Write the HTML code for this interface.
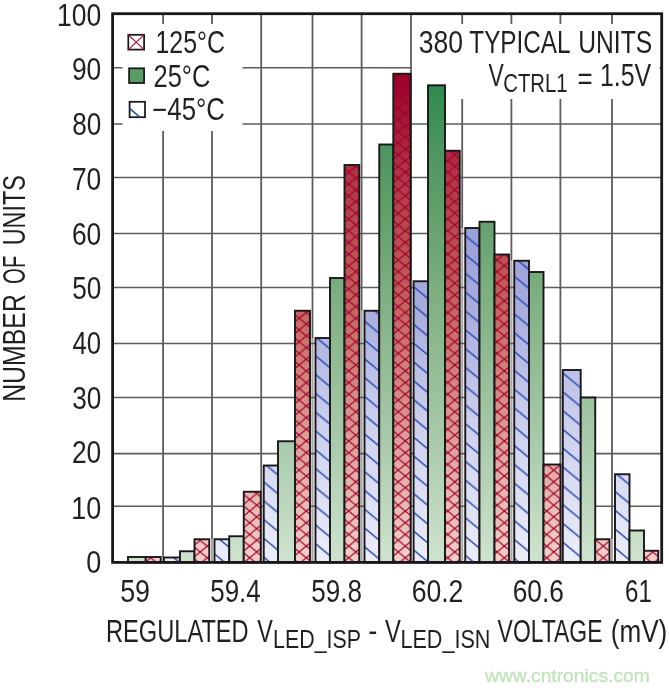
<!DOCTYPE html>
<html lang="en"><head><meta charset="utf-8"><title>Regulated VLED_ISP - VLED_ISN Voltage histogram</title>
<style>html,body{margin:0;padding:0;background:#fff;overflow:hidden}svg{display:block}</style></head><body>
<svg width="669" height="692" viewBox="0 0 669 692" font-family="&quot;Liberation Sans&quot;, sans-serif">
<defs>
<linearGradient id="gr" gradientUnits="userSpaceOnUse" x1="0" y1="13.7" x2="0" y2="562.4"><stop offset="0" stop-color="#930027"/><stop offset="0.11" stop-color="#99002b"/><stop offset="0.2" stop-color="#a41a37"/><stop offset="0.28" stop-color="#b03044"/><stop offset="0.36" stop-color="#b6434c"/><stop offset="0.45" stop-color="#bd5254"/><stop offset="0.522" stop-color="#c4605d"/><stop offset="0.704" stop-color="#d88c88"/><stop offset="0.886" stop-color="#e9b8b3"/><stop offset="1" stop-color="#f3cfc9"/></linearGradient>
<linearGradient id="gg" gradientUnits="userSpaceOnUse" x1="0" y1="13.7" x2="0" y2="562.4"><stop offset="0" stop-color="#1f7f45"/><stop offset="0.13" stop-color="#2e8b50"/><stop offset="0.248" stop-color="#4f9560"/><stop offset="0.34" stop-color="#5d9d68"/><stop offset="0.522" stop-color="#7fb083"/><stop offset="0.74" stop-color="#a3c6a4"/><stop offset="1" stop-color="#cfe3cf"/></linearGradient>
<linearGradient id="gb" gradientUnits="userSpaceOnUse" x1="0" y1="13.7" x2="0" y2="562.4"><stop offset="0" stop-color="#6f78c4"/><stop offset="0.39" stop-color="#979fd8"/><stop offset="0.55" stop-color="#a9aede"/><stop offset="0.74" stop-color="#cbcfed"/><stop offset="1" stop-color="#eceefa"/></linearGradient>
<pattern id="hr" patternUnits="userSpaceOnUse" x="193.13" y="546.11" width="14.144" height="11.68"><path d="M-7.072 -5.84L21.216 17.52M-7.072 17.52L21.216 -5.84M7.072 -5.84L21.216 5.84M-7.072 5.84L7.072 17.52M-7.072 5.84L7.072 -5.84M7.072 17.52L21.216 5.84" stroke="#a00028" stroke-width="1.25" fill="none"/></pattern>
<pattern id="hb" patternUnits="userSpaceOnUse" x="414.16" y="503.40" width="22.651" height="18.8"><path d="M-22.651 -9.4L22.651 28.200000000000003M0 -9.4L45.301 28.200000000000003M-45.301 -9.4L0 28.200000000000003" stroke="#2d4db6" stroke-width="1.5" fill="none"/></pattern>
</defs>
<rect width="669" height="692" fill="#fff"/>
<path d="M163.1 13.7V562.4M212.0 13.7V562.4M261.2 13.7V562.4M312.5 13.7V562.4M361.6 13.7V562.4M411.0 13.7V562.4M462.2 13.7V562.4M511.4 13.7V562.4M560.4 13.7V562.4M612.0 13.7V562.4" stroke="#5c5d5f" stroke-width="1.8" fill="none"/>
<path d="M163.1 557.5V562.4M212.0 539.25V562.4M261.2 491.75V562.4M312.5 338.0V562.4M361.6 310.75V562.4M411.0 281.25V562.4M462.2 228.0V562.4M511.4 260.75V562.4M560.4 464.5V562.4M612.0 539.25V562.4" stroke="#fff" stroke-width="2.4" fill="none"/>
<path d="M163.1 557.5V562.4M212.0 539.25V562.4M261.2 491.75V562.4M312.5 338.0V562.4M361.6 310.75V562.4M411.0 281.25V562.4M462.2 228.0V562.4M511.4 260.75V562.4M560.4 464.5V562.4M612.0 539.25V562.4" stroke="#a6a6a8" stroke-width="1.9" fill="none"/>
<path d="M112.6 67.75H661.7M112.6 124.0H661.7M112.6 177.5H661.7M112.6 233.4H661.7M112.6 287.5H661.7M112.6 343.4H661.7M112.6 397.5H661.7M112.6 453.6H661.7M112.6 506.2H661.7" stroke="#5c5d5f" stroke-width="1.55" fill="none"/>
<rect x="122.5" y="24" width="120" height="107" fill="#fff"/>
<rect x="412" y="24" width="247.5" height="75" fill="#fff"/>
<rect x="128.0" y="557.0" width="17.75" height="5.40" fill="url(#gg)"/>
<rect x="128.0" y="557.0" width="17.75" height="5.40" fill="none" stroke="#1a1718" stroke-width="1.9"/>
<rect x="145.75" y="557.0" width="15.00" height="5.40" fill="url(#gr)"/>
<rect x="145.75" y="557.0" width="15.00" height="5.40" fill="url(#hr)"/>
<rect x="145.75" y="557.0" width="15.00" height="5.40" fill="none" stroke="#1a1718" stroke-width="1.9"/>
<rect x="163.9" y="557.5" width="16.10" height="4.90" fill="url(#gb)"/>
<rect x="163.9" y="557.5" width="16.10" height="4.90" fill="url(#hb)"/>
<rect x="163.9" y="557.5" width="16.10" height="4.90" fill="none" stroke="#1a1718" stroke-width="1.9"/>
<rect x="180.0" y="551.25" width="14.50" height="11.15" fill="url(#gg)"/>
<rect x="180.0" y="551.25" width="14.50" height="11.15" fill="none" stroke="#1a1718" stroke-width="1.9"/>
<rect x="194.5" y="539.25" width="14.75" height="23.15" fill="url(#gr)"/>
<rect x="194.5" y="539.25" width="14.75" height="23.15" fill="url(#hr)"/>
<rect x="194.5" y="539.25" width="14.75" height="23.15" fill="none" stroke="#1a1718" stroke-width="1.9"/>
<rect x="214.5" y="539.25" width="14.75" height="23.15" fill="url(#gb)"/>
<rect x="214.5" y="539.25" width="14.75" height="23.15" fill="url(#hb)"/>
<rect x="214.5" y="539.25" width="14.75" height="23.15" fill="none" stroke="#1a1718" stroke-width="1.9"/>
<rect x="229.25" y="536.25" width="14.50" height="26.15" fill="url(#gg)"/>
<rect x="229.25" y="536.25" width="14.50" height="26.15" fill="none" stroke="#1a1718" stroke-width="1.9"/>
<rect x="243.75" y="491.75" width="17.00" height="70.65" fill="url(#gr)"/>
<rect x="243.75" y="491.75" width="17.00" height="70.65" fill="url(#hr)"/>
<rect x="243.75" y="491.75" width="17.00" height="70.65" fill="none" stroke="#1a1718" stroke-width="1.9"/>
<rect x="263.75" y="465.5" width="14.25" height="96.90" fill="url(#gb)"/>
<rect x="263.75" y="465.5" width="14.25" height="96.90" fill="url(#hb)"/>
<rect x="263.75" y="465.5" width="14.25" height="96.90" fill="none" stroke="#1a1718" stroke-width="1.9"/>
<rect x="278.0" y="441.25" width="17.00" height="121.15" fill="url(#gg)"/>
<rect x="278.0" y="441.25" width="17.00" height="121.15" fill="none" stroke="#1a1718" stroke-width="1.9"/>
<rect x="295.0" y="310.75" width="15.00" height="251.65" fill="url(#gr)"/>
<rect x="295.0" y="310.75" width="15.00" height="251.65" fill="url(#hr)"/>
<rect x="295.0" y="310.75" width="15.00" height="251.65" fill="none" stroke="#1a1718" stroke-width="1.9"/>
<rect x="315.5" y="338.0" width="14.50" height="224.40" fill="url(#gb)"/>
<rect x="315.5" y="338.0" width="14.50" height="224.40" fill="url(#hb)"/>
<rect x="315.5" y="338.0" width="14.50" height="224.40" fill="none" stroke="#1a1718" stroke-width="1.9"/>
<rect x="330.0" y="278.0" width="14.50" height="284.40" fill="url(#gg)"/>
<rect x="330.0" y="278.0" width="14.50" height="284.40" fill="none" stroke="#1a1718" stroke-width="1.9"/>
<rect x="344.5" y="165.0" width="14.75" height="397.40" fill="url(#gr)"/>
<rect x="344.5" y="165.0" width="14.75" height="397.40" fill="url(#hr)"/>
<rect x="344.5" y="165.0" width="14.75" height="397.40" fill="none" stroke="#1a1718" stroke-width="1.9"/>
<rect x="364.5" y="310.75" width="14.75" height="251.65" fill="url(#gb)"/>
<rect x="364.5" y="310.75" width="14.75" height="251.65" fill="url(#hb)"/>
<rect x="364.5" y="310.75" width="14.75" height="251.65" fill="none" stroke="#1a1718" stroke-width="1.9"/>
<rect x="379.25" y="144.5" width="14.05" height="417.90" fill="url(#gg)"/>
<rect x="379.25" y="144.5" width="14.05" height="417.90" fill="none" stroke="#1a1718" stroke-width="1.9"/>
<rect x="393.3" y="73.75" width="17.30" height="488.65" fill="url(#gr)"/>
<rect x="393.3" y="73.75" width="17.30" height="488.65" fill="url(#hr)"/>
<rect x="393.3" y="73.75" width="17.30" height="488.65" fill="none" stroke="#1a1718" stroke-width="1.9"/>
<rect x="413.6" y="281.25" width="14.40" height="281.15" fill="url(#gb)"/>
<rect x="413.6" y="281.25" width="14.40" height="281.15" fill="url(#hb)"/>
<rect x="413.6" y="281.25" width="14.40" height="281.15" fill="none" stroke="#1a1718" stroke-width="1.9"/>
<rect x="428.0" y="85.3" width="17.00" height="477.10" fill="url(#gg)"/>
<rect x="428.0" y="85.3" width="17.00" height="477.10" fill="none" stroke="#1a1718" stroke-width="1.9"/>
<rect x="445.0" y="150.75" width="14.75" height="411.65" fill="url(#gr)"/>
<rect x="445.0" y="150.75" width="14.75" height="411.65" fill="url(#hr)"/>
<rect x="445.0" y="150.75" width="14.75" height="411.65" fill="none" stroke="#1a1718" stroke-width="1.9"/>
<rect x="465.25" y="228.0" width="14.25" height="334.40" fill="url(#gb)"/>
<rect x="465.25" y="228.0" width="14.25" height="334.40" fill="url(#hb)"/>
<rect x="465.25" y="228.0" width="14.25" height="334.40" fill="none" stroke="#1a1718" stroke-width="1.9"/>
<rect x="479.5" y="221.75" width="15.00" height="340.65" fill="url(#gg)"/>
<rect x="479.5" y="221.75" width="15.00" height="340.65" fill="none" stroke="#1a1718" stroke-width="1.9"/>
<rect x="494.5" y="254.5" width="14.50" height="307.90" fill="url(#gr)"/>
<rect x="494.5" y="254.5" width="14.50" height="307.90" fill="url(#hr)"/>
<rect x="494.5" y="254.5" width="14.50" height="307.90" fill="none" stroke="#1a1718" stroke-width="1.9"/>
<rect x="514.25" y="260.75" width="14.75" height="301.65" fill="url(#gb)"/>
<rect x="514.25" y="260.75" width="14.75" height="301.65" fill="url(#hb)"/>
<rect x="514.25" y="260.75" width="14.75" height="301.65" fill="none" stroke="#1a1718" stroke-width="1.9"/>
<rect x="529.0" y="272.0" width="14.50" height="290.40" fill="url(#gg)"/>
<rect x="529.0" y="272.0" width="14.50" height="290.40" fill="none" stroke="#1a1718" stroke-width="1.9"/>
<rect x="543.5" y="464.5" width="17.00" height="97.90" fill="url(#gr)"/>
<rect x="543.5" y="464.5" width="17.00" height="97.90" fill="url(#hr)"/>
<rect x="543.5" y="464.5" width="17.00" height="97.90" fill="none" stroke="#1a1718" stroke-width="1.9"/>
<rect x="562.8" y="370.0" width="17.90" height="192.40" fill="url(#gb)"/>
<rect x="562.8" y="370.0" width="17.90" height="192.40" fill="url(#hb)"/>
<rect x="562.8" y="370.0" width="17.90" height="192.40" fill="none" stroke="#1a1718" stroke-width="1.9"/>
<rect x="580.75" y="397.5" width="14.50" height="164.90" fill="url(#gg)"/>
<rect x="580.75" y="397.5" width="14.50" height="164.90" fill="none" stroke="#1a1718" stroke-width="1.9"/>
<rect x="595.25" y="539.25" width="14.25" height="23.15" fill="url(#gr)"/>
<rect x="595.25" y="539.25" width="14.25" height="23.15" fill="url(#hr)"/>
<rect x="595.25" y="539.25" width="14.25" height="23.15" fill="none" stroke="#1a1718" stroke-width="1.9"/>
<rect x="615.0" y="474.25" width="14.50" height="88.15" fill="url(#gb)"/>
<rect x="615.0" y="474.25" width="14.50" height="88.15" fill="url(#hb)"/>
<rect x="615.0" y="474.25" width="14.50" height="88.15" fill="none" stroke="#1a1718" stroke-width="1.9"/>
<rect x="629.5" y="530.5" width="14.50" height="31.90" fill="url(#gg)"/>
<rect x="629.5" y="530.5" width="14.50" height="31.90" fill="none" stroke="#1a1718" stroke-width="1.9"/>
<rect x="644.0" y="550.75" width="14.25" height="11.65" fill="url(#gr)"/>
<rect x="644.0" y="550.75" width="14.25" height="11.65" fill="url(#hr)"/>
<rect x="644.0" y="550.75" width="14.25" height="11.65" fill="none" stroke="#1a1718" stroke-width="1.9"/>
<rect x="112.6" y="13.7" width="549.10" height="548.70" fill="none" stroke="#1a1718" stroke-width="2.8"/>
<rect x="128.3" y="34.8" width="15.8" height="14.8" fill="#fff" stroke="#1a1718" stroke-width="1.75"/>
<path d="M128.3 34.8L144.1 49.6M144.1 34.8L128.3 49.6" stroke="#a80a2c" stroke-width="1.1"/>
<rect x="129.1" y="68.3" width="15.0" height="14.7" fill="#5a9d66" stroke="#1a1718" stroke-width="1.75"/>
<rect x="129.6" y="101.8" width="15.4" height="15.4" fill="#fff" stroke="#1a1718" stroke-width="1.75"/>
<path d="M129.6 108.3L139.8 117.2" stroke="#2d4db6" stroke-width="1.6"/>
<text x="155.46" y="52.6" font-size="30.5" fill="#231f20" text-anchor="start" textLength="69.56" lengthAdjust="spacingAndGlyphs" >125°C</text>
<text x="153.55" y="86.9" font-size="30.5" fill="#231f20" text-anchor="start" textLength="56.81" lengthAdjust="spacingAndGlyphs" >25°C</text>
<text x="152.23" y="120.3" font-size="30.5" fill="#231f20" text-anchor="start" textLength="72.7" lengthAdjust="spacingAndGlyphs" >−45°C</text>
<text x="418.71" y="52.9" font-size="30.5" fill="#231f20" text-anchor="start" textLength="44.28" lengthAdjust="spacingAndGlyphs" >380</text>
<text x="469.3" y="52.9" font-size="30.5" fill="#231f20" text-anchor="start" textLength="101.29" lengthAdjust="spacingAndGlyphs" >TYPICAL</text>
<text x="578.18" y="52.9" font-size="30.5" fill="#231f20" text-anchor="start" textLength="74.03" lengthAdjust="spacingAndGlyphs" >UNITS</text>
<text x="488.56" y="86.0" font-size="30.5" fill="#231f20" text-anchor="start" textLength="15.26" lengthAdjust="spacingAndGlyphs" >V</text>
<text x="503.24" y="92.3" font-size="25" fill="#231f20" text-anchor="start" textLength="64.23" lengthAdjust="spacingAndGlyphs" >CTRL1</text>
<text x="577.48" y="89.0" font-size="30.5" fill="#231f20" text-anchor="start" textLength="15.1" lengthAdjust="spacingAndGlyphs" >=</text>
<text x="599.96" y="86.0" font-size="30.5" fill="#231f20" text-anchor="start" textLength="51.24" lengthAdjust="spacingAndGlyphs" >1.5V</text>
<text x="106.06" y="642.0" font-size="30.5" fill="#231f20" text-anchor="start" textLength="142.64" lengthAdjust="spacingAndGlyphs" >REGULATED</text>
<text x="257.21" y="642.0" font-size="30.5" fill="#231f20" text-anchor="start" textLength="15.56" lengthAdjust="spacingAndGlyphs" >V</text>
<text x="273.09" y="648.0" font-size="25" fill="#231f20" text-anchor="start" textLength="87.86" lengthAdjust="spacingAndGlyphs" >LED_ISP</text>
<text x="368.18" y="641.0" font-size="30.5" fill="#231f20" text-anchor="start" textLength="9.09" lengthAdjust="spacingAndGlyphs" >-</text>
<text x="385.11" y="642.0" font-size="30.5" fill="#231f20" text-anchor="start" textLength="15.87" lengthAdjust="spacingAndGlyphs" >V</text>
<text x="400.47" y="648.0" font-size="25" fill="#231f20" text-anchor="start" textLength="89.98" lengthAdjust="spacingAndGlyphs" >LED_ISN</text>
<text x="497.61" y="642.0" font-size="30.5" fill="#231f20" text-anchor="start" textLength="104.86" lengthAdjust="spacingAndGlyphs" >VOLTAGE</text>
<text x="610.79" y="642.0" font-size="30.5" fill="#231f20" text-anchor="start" textLength="56.52" lengthAdjust="spacingAndGlyphs" >(mV)</text>
<text x="56.94" y="26.0" font-size="30.5" fill="#231f20" text-anchor="start" textLength="44.25" lengthAdjust="spacingAndGlyphs" >100</text>
<text x="71.9" y="80.4" font-size="30.5" fill="#231f20" text-anchor="start" textLength="29.32" lengthAdjust="spacingAndGlyphs" >90</text>
<text x="72.13" y="135.2" font-size="30.5" fill="#231f20" text-anchor="start" textLength="29.09" lengthAdjust="spacingAndGlyphs" >80</text>
<text x="71.9" y="189.9" font-size="30.5" fill="#231f20" text-anchor="start" textLength="29.32" lengthAdjust="spacingAndGlyphs" >70</text>
<text x="71.9" y="244.6" font-size="30.5" fill="#231f20" text-anchor="start" textLength="29.32" lengthAdjust="spacingAndGlyphs" >60</text>
<text x="72.13" y="299.3" font-size="30.5" fill="#231f20" text-anchor="start" textLength="29.09" lengthAdjust="spacingAndGlyphs" >50</text>
<text x="72.57" y="354.0" font-size="30.5" fill="#231f20" text-anchor="start" textLength="28.63" lengthAdjust="spacingAndGlyphs" >40</text>
<text x="72.13" y="408.7" font-size="30.5" fill="#231f20" text-anchor="start" textLength="29.09" lengthAdjust="spacingAndGlyphs" >30</text>
<text x="71.9" y="463.4" font-size="30.5" fill="#231f20" text-anchor="start" textLength="29.32" lengthAdjust="spacingAndGlyphs" >20</text>
<text x="71.21" y="518.6" font-size="30.5" fill="#231f20" text-anchor="start" textLength="30.04" lengthAdjust="spacingAndGlyphs" >10</text>
<text x="86.3" y="573.0" font-size="30.5" fill="#231f20" text-anchor="start" textLength="14.98" lengthAdjust="spacingAndGlyphs" >0</text>
<text x="120.15" y="602.0" font-size="30.5" fill="#231f20" text-anchor="start" textLength="29.92" lengthAdjust="spacingAndGlyphs" >59</text>
<text x="210.19" y="602.0" font-size="30.5" fill="#231f20" text-anchor="start" textLength="50.56" lengthAdjust="spacingAndGlyphs" >59.4</text>
<text x="311.23" y="602.0" font-size="30.5" fill="#231f20" text-anchor="start" textLength="50.74" lengthAdjust="spacingAndGlyphs" >59.8</text>
<text x="411.69" y="602.0" font-size="30.5" fill="#231f20" text-anchor="start" textLength="51.72" lengthAdjust="spacingAndGlyphs" >60.2</text>
<text x="512.71" y="602.0" font-size="30.5" fill="#231f20" text-anchor="start" textLength="51.23" lengthAdjust="spacingAndGlyphs" >60.6</text>
<text x="625.06" y="602.0" font-size="30.5" fill="#231f20" text-anchor="start" textLength="26.82" lengthAdjust="spacingAndGlyphs" >61</text>
<text transform="translate(25.4 400) rotate(-90)" x="-1.84" y="0" font-size="30.5" fill="#231f20" textLength="107.70" lengthAdjust="spacingAndGlyphs">NUMBER</text>
<text transform="translate(25.4 400) rotate(-90)" x="116.10" y="0" font-size="30.5" fill="#231f20" textLength="28.24" lengthAdjust="spacingAndGlyphs">OF</text>
<text transform="translate(25.4 400) rotate(-90)" x="154.67" y="0" font-size="30.5" fill="#231f20" textLength="70.18" lengthAdjust="spacingAndGlyphs">UNITS</text>
<text x="485.0" y="682.0" font-size="19.2" fill="#bfe4ba" stroke="#bfe4ba" stroke-width="0.3" textLength="164.8" lengthAdjust="spacingAndGlyphs">www.cntronics.com</text>
</svg></body></html>
